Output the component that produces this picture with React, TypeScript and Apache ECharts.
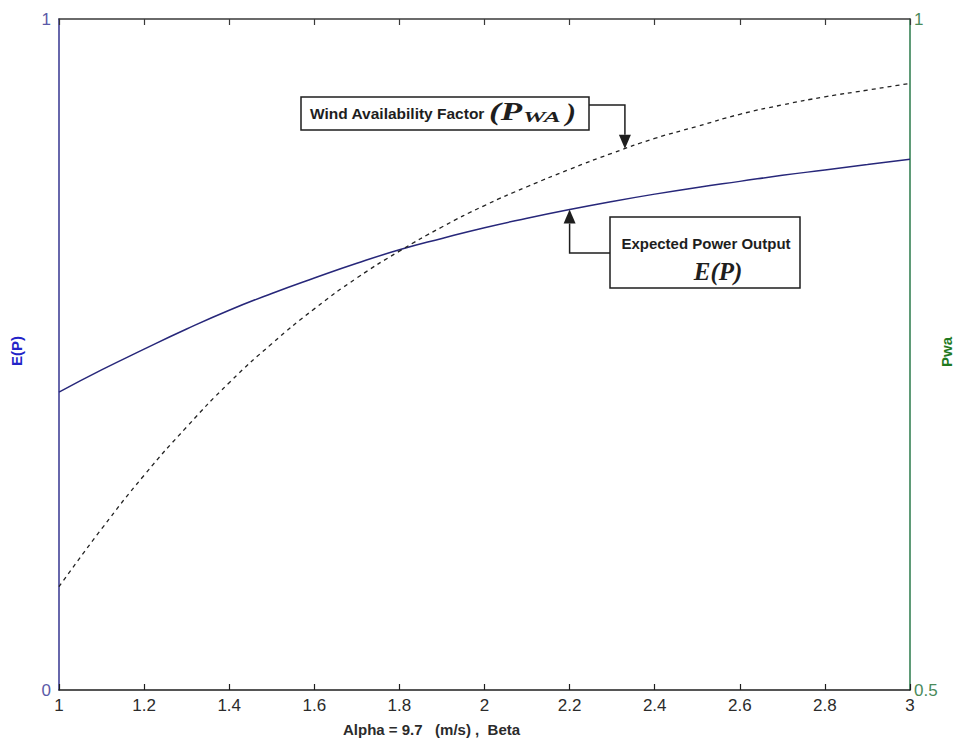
import React, { useEffect, useRef } from "react";
import * as echarts from "echarts";

// Weibull shape parameter (Beta) for a scale parameter Alpha = 9.7 m/s
const beta = [1.0, 1.1, 1.2, 1.3, 1.4, 1.5, 1.6, 1.7, 1.8, 1.9, 2.0, 2.1, 2.2, 2.3, 2.4, 2.5, 2.6, 2.7, 2.8, 2.9, 3.0];

// Expected power output E(P), left axis
const expectedPower = [
  0.444, 0.477, 0.508, 0.538, 0.566, 0.591, 0.614, 0.636, 0.656, 0.673, 0.689,
  0.703, 0.716, 0.728, 0.739, 0.749, 0.758, 0.767, 0.775, 0.783, 0.791,
];

// Wind availability factor Pwa, right axis
const windAvailability = [
  0.577, 0.62, 0.66, 0.696, 0.729, 0.758, 0.784, 0.807, 0.827, 0.845, 0.861,
  0.875, 0.888, 0.9, 0.911, 0.92, 0.929, 0.936, 0.942, 0.947, 0.952,
];

const xTicks = { min: 1, max: 3, interval: 0.2 };
const leftTicks = { min: 0, max: 1, interval: 1 };
const rightTicks = { min: 0.5, max: 1, interval: 0.5 };

// Where the two callout arrows point on their curves
const pwaPointerBeta = 2.33;
const epPointerBeta = 2.2;

function valueAt(xs: number[], ys: number[], x: number): number {
  for (let i = 0; i < xs.length - 1; i++) {
    if (x >= xs[i] && x <= xs[i + 1]) {
      const t = (x - xs[i]) / (xs[i + 1] - xs[i]);
      return ys[i] + t * (ys[i + 1] - ys[i]);
    }
  }
  return ys[ys.length - 1];
}

const SANS = "'Liberation Sans', Arial, sans-serif";
const SERIF = "'Liberation Serif', 'Times New Roman', serif";
const INK = "#1e1e1e";

export default function App() {
  const ref = useRef<HTMLDivElement>(null);

  useEffect(() => {
    if (!ref.current) return;
    const chart = echarts.init(ref.current, null, { renderer: "svg" });

    chart.setOption({
      animation: false,
      backgroundColor: "#ffffff",
      grid: { left: 59, right: 53, top: 19, bottom: 56, containLabel: false },
      xAxis: [
        {
          type: "value",
          ...xTicks,
          position: "bottom",
          axisLine: { show: true, lineStyle: { color: INK, width: 1.5 } },
          axisTick: { show: true, inside: true, length: 6, lineStyle: { color: INK, width: 1.2 } },
          axisLabel: {
            color: "#2b2b2b",
            fontSize: 17,
            fontFamily: SANS,
            margin: 7,
            formatter: (v: number) => String(Math.round(v * 10) / 10),
          },
          splitLine: { show: false },
        },
        {
          type: "value",
          ...xTicks,
          position: "top",
          axisLine: { show: true, lineStyle: { color: "#3a3a3a", width: 1.5 } },
          axisTick: { show: true, inside: true, length: 6, lineStyle: { color: "#3a3a3a", width: 1.2 } },
          axisLabel: { show: false },
          splitLine: { show: false },
        },
      ],
      yAxis: [
        {
          type: "value",
          ...leftTicks,
          position: "left",
          axisLine: { show: true, lineStyle: { color: "#34348f", width: 1.5 } },
          axisTick: { show: false },
          axisLabel: { color: "#5a5aa8", fontSize: 17, fontFamily: SANS, margin: 8 },
          splitLine: { show: false },
        },
        {
          type: "value",
          ...rightTicks,
          position: "right",
          axisLine: { show: true, lineStyle: { color: "#2a7a4a", width: 1.5 } },
          axisTick: { show: false },
          axisLabel: { color: "#4a8a5a", fontSize: 17, fontFamily: SANS, margin: 4 },
          splitLine: { show: false },
        },
      ],
      series: [
        {
          name: "E(P)",
          type: "line",
          xAxisIndex: 0,
          yAxisIndex: 0,
          smooth: true,
          showSymbol: false,
          data: beta.map((b, i) => [b, expectedPower[i]]),
          lineStyle: { color: "#27277a", width: 1.5 },
        },
        {
          name: "Pwa",
          type: "line",
          xAxisIndex: 0,
          yAxisIndex: 1,
          smooth: true,
          showSymbol: false,
          data: beta.map((b, i) => [b, windAvailability[i]]),
          lineStyle: { color: "#222222", width: 1.3, type: [4, 4] },
        },
      ],
    });

    const pwaTip = chart.convertToPixel({ seriesIndex: 1 }, [
      pwaPointerBeta,
      valueAt(beta, windAvailability, pwaPointerBeta),
    ]) as number[];
    const epTip = chart.convertToPixel({ seriesIndex: 0 }, [
      epPointerBeta,
      valueAt(beta, expectedPower, epPointerBeta),
    ]) as number[];

    const box1 = { x: 301, y: 97, w: 288, h: 33 };
    const box2 = { x: 610, y: 217, w: 190, h: 71 };
    const headW = 6;
    const headH = 14;
    const stroke = { stroke: INK, lineWidth: 1.5, fill: null };

    chart.setOption({
      graphic: [
        // axis titles
        {
          type: "text",
          x: 16,
          y: 351,
          rotation: Math.PI / 2,
          style: {
            text: "E(P)",
            fill: "#2323c8",
            font: `bold 15px ${SANS}`,
            align: "center",
            verticalAlign: "middle",
          },
        },
        {
          type: "text",
          x: 946,
          y: 352,
          rotation: Math.PI / 2,
          style: {
            text: "Pwa",
            fill: "#1f7a1f",
            font: `bold 15px ${SANS}`,
            align: "center",
            verticalAlign: "middle",
          },
        },
        {
          type: "text",
          x: 343,
          y: 729,
          style: {
            text: "Alpha = 9.7   (m/s) ,  Beta",
            fill: "#2b2b2b",
            font: `bold 15px ${SANS}`,
            align: "left",
            verticalAlign: "middle",
          },
        },
        // callout for the wind availability factor
        {
          type: "polyline",
          shape: {
            points: [
              [box1.x + box1.w, box1.y + 8],
              [pwaTip[0], box1.y + 8],
              [pwaTip[0], pwaTip[1] - headH],
            ],
          },
          style: stroke,
        },
        {
          type: "polygon",
          shape: {
            points: [
              [pwaTip[0] - headW, pwaTip[1] - headH],
              [pwaTip[0] + headW, pwaTip[1] - headH],
              [pwaTip[0], pwaTip[1]],
            ],
          },
          style: { fill: INK },
        },
        {
          type: "rect",
          shape: { x: box1.x, y: box1.y, width: box1.w, height: box1.h },
          style: { fill: "#ffffff", stroke: INK, lineWidth: 1.5 },
        },
        {
          type: "text",
          x: box1.x + 9,
          y: box1.y + 16,
          style: {
            text: "Wind Availability Factor",
            fill: INK,
            font: `bold 15.5px ${SANS}`,
            verticalAlign: "middle",
          },
        },
        {
          type: "text",
          x: 489,
          y: box1.y + 15,
          scaleX: 1.4,
          style: {
            text: "(P",
            fill: INK,
            font: `italic bold 25px ${SERIF}`,
            verticalAlign: "middle",
          },
        },
        {
          type: "text",
          x: 523,
          y: box1.y + 20,
          scaleX: 1.7,
          style: {
            text: "WA",
            fill: INK,
            font: `italic bold 15px ${SERIF}`,
            verticalAlign: "middle",
          },
        },
        {
          type: "text",
          x: 566,
          y: box1.y + 15,
          scaleX: 1.2,
          style: {
            text: ")",
            fill: INK,
            font: `italic bold 25px ${SERIF}`,
            verticalAlign: "middle",
          },
        },
        // callout for the expected power output
        {
          type: "polyline",
          shape: {
            points: [
              [box2.x, box2.y + 36],
              [epTip[0], box2.y + 36],
              [epTip[0], epTip[1] + headH],
            ],
          },
          style: stroke,
        },
        {
          type: "polygon",
          shape: {
            points: [
              [epTip[0] - headW, epTip[1] + headH],
              [epTip[0] + headW, epTip[1] + headH],
              [epTip[0], epTip[1]],
            ],
          },
          style: { fill: INK },
        },
        {
          type: "rect",
          shape: { x: box2.x, y: box2.y, width: box2.w, height: box2.h },
          style: { fill: "#ffffff", stroke: INK, lineWidth: 1.5 },
        },
        {
          type: "text",
          x: box2.x + 96,
          y: box2.y + 26,
          style: {
            text: "Expected Power Output",
            fill: INK,
            font: `bold 15px ${SANS}`,
            align: "center",
            verticalAlign: "middle",
          },
        },
        {
          type: "text",
          x: box2.x + 108,
          y: box2.y + 54,
          style: {
            text: "E(P)",
            fill: INK,
            font: `italic bold 25px ${SERIF}`,
            align: "center",
            verticalAlign: "middle",
          },
        },
      ],
    });

    return () => chart.dispose();
  }, []);

  return (
    <div
      ref={ref}
      style={{ position: "absolute", left: 0, top: 0, width: 963, height: 746 }}
    />
  );
}
